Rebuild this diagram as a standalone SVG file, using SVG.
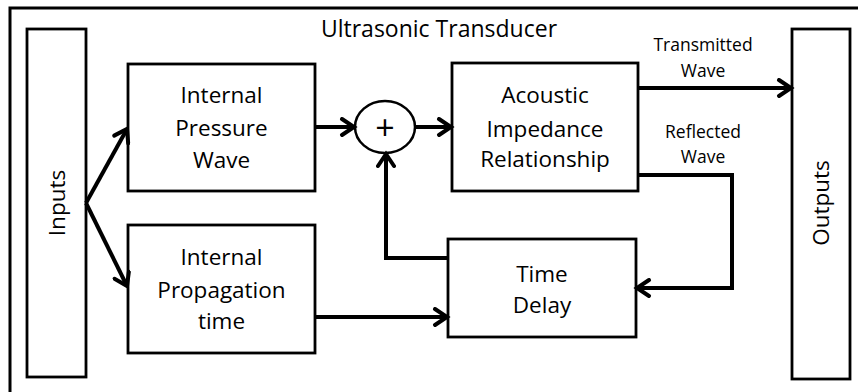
<svg xmlns="http://www.w3.org/2000/svg" width="858" height="392" viewBox="0 0 858 392">
<style>
.box{fill:#fff;stroke:#000;stroke-width:2.8}
.t{font-family:"Open Sans",sans-serif;font-size:22.5px;fill:#000;text-anchor:middle}
.s{font-family:"Open Sans",sans-serif;font-size:17.5px;fill:#000;text-anchor:middle}
.c{fill:none;stroke:#000;stroke-width:4;stroke-linejoin:miter}
</style>
<defs>
<marker id="ah" markerUnits="userSpaceOnUse" markerWidth="20" markerHeight="20" viewBox="-14 -10 16 20" refX="0" refY="0" orient="auto">
<path d="M-12,-8 L0,0 L-12,8" fill="none" stroke="#000" stroke-width="4" stroke-linecap="round" stroke-linejoin="miter"/>
</marker>
</defs>
<rect id="frame" x="10" y="8" width="870" height="400" fill="#fff" stroke="#000" stroke-width="3"/>
<text class="t" x="439" y="37" style="font-size:23px">Ultrasonic Transducer</text>
<g id="inputs"><rect class="box" x="27" y="29" width="59" height="348"/><text class="t" transform="translate(65,203) rotate(-90)">Inputs</text></g>
<g id="outputs"><rect class="box" x="792" y="29" width="58" height="350"/><text class="t" transform="translate(829,203) rotate(-90)">Outputs</text></g>
<g id="pressure"><rect class="box" x="128" y="64" width="187" height="127"/><text class="t" x="221.5" y="103">Internal</text><text class="t" x="221.5" y="136">Pressure</text><text class="t" x="221.5" y="168">Wave</text></g>
<g id="propagation"><rect class="box" x="128" y="225" width="187" height="128"/><text class="t" x="221.5" y="265">Internal</text><text class="t" x="221.5" y="298">Propagation</text><text class="t" x="221.5" y="329">time</text></g>
<g id="sum"><ellipse cx="385" cy="127" rx="30" ry="26" fill="#fff" stroke="#000" stroke-width="2.5"/><text class="t" x="385" y="140" style="font-size:34px">+</text></g>
<g id="acoustic"><rect class="box" x="452" y="63" width="186" height="128"/><text class="t" x="545" y="103">Acoustic</text><text class="t" x="545" y="137">Impedance</text><text class="t" x="545" y="167">Relationship</text></g>
<g id="delay"><rect class="box" x="448" y="239" width="188" height="98"/><text class="t" x="542" y="282">Time</text><text class="t" x="542" y="313">Delay</text></g>
<g id="connectors">
<path class="c" d="M86,203 L127,129" marker-end="url(#ah)"/>
<path class="c" d="M86,203 L127,286" marker-end="url(#ah)"/>
<path class="c" d="M315,127 L354,127" marker-end="url(#ah)"/>
<path class="c" d="M415,127 L451,127" marker-end="url(#ah)"/>
<path class="c" d="M638,88 L791,88" marker-end="url(#ah)"/>
<path class="c" d="M638,175 L732,175 L732,288 L637,288" marker-end="url(#ah)"/>
<path class="c" d="M448,258 L386,258 L386,154" marker-end="url(#ah)"/>
<path class="c" d="M315,317 L447,317" marker-end="url(#ah)"/>
</g>
<text class="s" x="703" y="51">Transmitted</text>
<text class="s" x="703" y="77">Wave</text>
<text class="s" x="703" y="138">Reflected</text>
<text class="s" x="703" y="163">Wave</text>
</svg>
